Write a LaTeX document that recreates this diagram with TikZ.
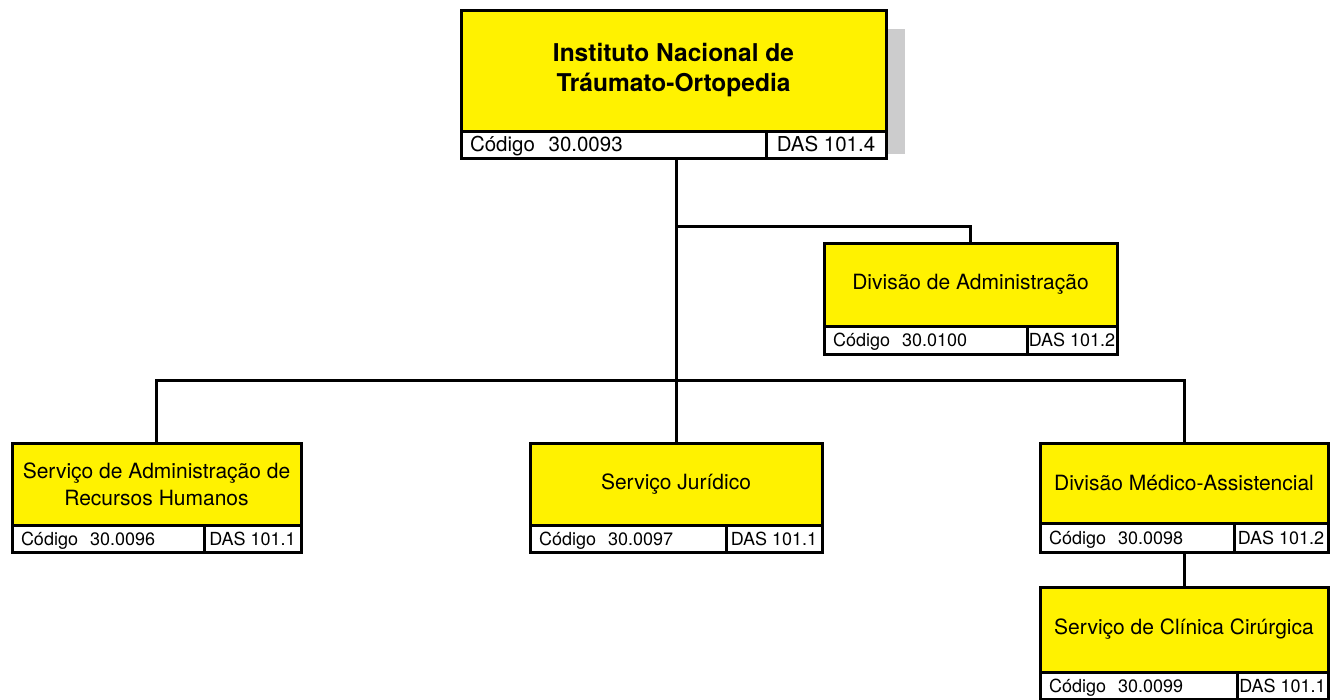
\documentclass[tikz,border=0pt]{standalone}
\usepackage{fontspec}
\setmainfont{TeX Gyre Heros}

\definecolor{boxyellow}{RGB}{255,242,0}
\definecolor{shadowgray}{RGB}{204,204,205}

\tikzset{every picture/.style={line width=3pt}}

\begin{document}
\begin{tikzpicture}[
    x=1pt, y=-1pt,
    every node/.style={inner sep=0pt, outer sep=0pt},
    unit/.style={draw, fill=boxyellow, align=center, font=\fontsize{21}{27}\selectfont},
    topunit/.style={unit, font=\fontsize{24.5}{30}\selectfont\bfseries},
    codecell/.style={draw, fill=white, anchor=north west, align=left, inner xsep=9pt,
        text height=13pt, text depth=0pt, font=\fontsize{18}{22}\selectfont},
    dascell/.style={draw, fill=white, anchor=north east, align=center,
        text height=13pt, text depth=0pt, font=\fontsize{18}{22}\selectfont},
    bigcell/.style={text height=14.7pt, font=\fontsize{20.5}{24}\selectfont},
]

    \useasboundingbox (0,0) rectangle (1330,699);

    % shadow behind the head unit
    \fill[shadowgray] (886,29) rectangle (905,154);

    \node[topunit, minimum width=425pt, minimum height=121pt] (inst) at (673.5,70.5) {Instituto Nacional de\\Tráumato-Ortopedia};
    \node[codecell, bigcell, minimum height=27pt, text width=287pt] (inst-cod) at (inst.south west) {Código~~30.0093};
    \node[dascell, bigcell, minimum width=120pt, minimum height=27pt] (inst-das) at (inst.south east) {DAS 101.4};

    \node[unit, minimum width=293pt, minimum height=83pt] (adm) at (970.5,284.5) {Divisão de Administração};
    \node[codecell, minimum height=28pt, text width=185pt] (adm-cod) at (adm.south west) {Código~~30.0100};
    \node[dascell, minimum width=90pt, minimum height=28pt] (adm-das) at (adm.south east) {DAS 101.2};

    \node[unit, minimum width=289pt, minimum height=82pt] (rh) at (156.5,484) {Serviço de Administração de\\Recursos Humanos};
    \node[codecell, minimum height=27pt, text width=174pt] (rh-cod) at (rh.south west) {Código~~30.0096};
    \node[dascell, minimum width=97pt, minimum height=27pt] (rh-das) at (rh.south east) {DAS 101.1};

    \node[unit, minimum width=292pt, minimum height=82pt] (jur) at (676,484) {Serviço Jurídico};
    \node[codecell, minimum height=27pt, text width=178pt] (jur-cod) at (jur.south west) {Código~~30.0097};
    \node[dascell, minimum width=96pt, minimum height=27pt] (jur-das) at (jur.south east) {DAS 101.1};

    \node[unit, minimum width=288pt, minimum height=80pt] (med) at (1184,483) {Divisão Médico-Assistencial};
    \node[codecell, minimum height=29pt, text width=176pt] (med-cod) at (med.south west) {Código~~30.0098};
    \node[dascell, minimum width=94pt, minimum height=29pt] (med-das) at (med.south east) {DAS 101.2};

    \node[unit, minimum width=288pt, minimum height=85pt] (cli) at (1184,629.5) {Serviço de Clínica Cirúrgica};
    \node[codecell, minimum height=27pt, text width=179pt] (cli-cod) at (cli.south west) {Código~~30.0099};
    \node[dascell, minimum width=91pt, minimum height=27pt] (cli-das) at (cli.south east) {DAS 101.1};

    \coordinate (hub1) at (676,226);
    \coordinate (hub2) at (676,380);

    \draw (inst-cod.south -| hub1) -- (hub2);
    \draw (hub1) -| (adm.north);
    \draw (rh.north) |- (hub2) -| (med.north);
    \draw (hub2) -- (jur.north);
    \draw (med-cod.south -| med.north) -- (cli.north);
\end{tikzpicture}
\end{document}
